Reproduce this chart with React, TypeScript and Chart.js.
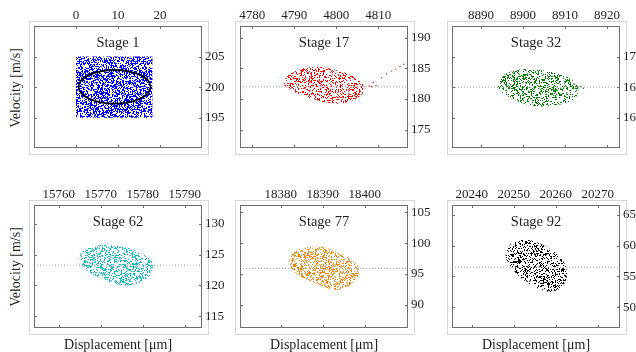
import React, { useEffect, useRef } from 'react';
import { Chart, registerables } from 'chart.js';

Chart.register(...registerables);

// ---------------- data ----------------
const STAGE_LABELS = ['Stage 1', 'Stage 17', 'Stage 32', 'Stage 62', 'Stage 77', 'Stage 92'];
const X_TITLE = 'Displacement [μm]';
const Y_TITLE = 'Velocity [m/s]';

const X_MIN = [-10, 4777.1, 8883.1, 15754.1, 18370.3, 20235.3];
const X_MAX = [30, 4817.1, 8923.1, 15794.1, 18410.3, 20275.3];
const Y_MIN = [190, 171.95, 155, 113.06, 86.2, 46.6];
const Y_MAX = [210, 191.95, 175, 133.06, 106.2, 66.6];

const X_TICKS = [
  [0, 10, 20],
  [4780, 4790, 4800, 4810],
  [8890, 8900, 8910, 8920],
  [15760, 15770, 15780, 15790],
  [18380, 18390, 18400],
  [20240, 20250, 20260, 20270],
];
const Y_TICKS = [
  [195, 200, 205],
  [175, 180, 185, 190],
  [160, 165, 170],
  [115, 120, 125, 130],
  [90, 95, 100, 105],
  [50, 55, 60, 65],
];

// reference (mean) velocity shown as dotted line
const REF_VELOCITY = [null, 182.0, 165.0, 123.3, 95.9, 56.5];

// Stage 1: initial uniform box of particles and acceptance ellipse
const STAGE1_BOX_X = [0, 18.2, 18.2, 0];
const STAGE1_BOX_Y = [195, 195, 205, 205];
const STAGE1_ELLIPSE_X = [17.8, 17.15, 15.28, 12.49, 9.2, 5.91, 3.12, 1.25, 0.6, 1.25, 3.12, 5.91, 9.2, 12.49, 15.28, 17.15, 17.8];
const STAGE1_ELLIPSE_Y = [200.05, 201.1, 202.0, 202.59, 202.8, 202.59, 202.0, 201.1, 200.05, 199.0, 198.1, 197.51, 197.3, 197.51, 198.1, 199.0, 200.05];

// Stage 17 bunch outline + escaping particles
const STAGE17_CLOUD_X = [4787.4, 4788.6, 4790.6, 4793.7, 4796.1, 4798.5, 4801.7, 4804.0, 4806.0, 4807.1, 4806.6, 4804.9, 4802.5, 4800.5, 4797.7, 4794.5, 4791.4, 4788.6, 4787.5];
const STAGE17_CLOUD_Y = [182.8, 184.1, 184.8, 185.3, 185.3, 185.0, 184.5, 183.8, 182.8, 181.9, 181.0, 180.0, 179.4, 179.1, 179.4, 179.9, 180.7, 181.6, 182.3];
const STAGE17_TRAIL_X = [4807.9, 4808.4, 4808.8, 4809.5, 4810.8, 4812.0, 4813.2, 4814.2, 4815.2, 4816.1];
const STAGE17_TRAIL_Y = [182.15, 182.0, 182.7, 182.2, 183.5, 184.1, 184.6, 184.9, 185.3, 185.7];

// Stage 32
const STAGE32_CLOUD_X = [8894.0, 8894.8, 8896.7, 8899.9, 8903.1, 8906.3, 8909.4, 8911.8, 8913.2, 8913.2, 8912.5, 8910.2, 8907.0, 8903.9, 8900.7, 8897.5, 8895.1, 8894.1];
const STAGE32_CLOUD_Y = [165.6, 166.8, 167.5, 168.0, 167.9, 167.6, 167.0, 166.2, 165.2, 164.1, 163.1, 162.3, 161.9, 161.8, 162.1, 163.0, 164.0, 164.8];
const STAGE32_STRAY_X = [8913.8, 8914.4];
const STAGE32_STRAY_Y = [165.1, 164.8];

// Stage 62
const STAGE62_CLOUD_X = [15764.5, 15765.3, 15767.3, 15769.6, 15772.0, 15775.2, 15778.3, 15780.7, 15782.1, 15782.7, 15782.3, 15780.7, 15778.3, 15775.6, 15772.8, 15769.6, 15766.9, 15764.9];
const STAGE62_CLOUD_Y = [124.5, 125.5, 126.2, 126.6, 126.6, 126.3, 125.8, 125.0, 124.1, 122.9, 122.0, 121.0, 120.1, 119.9, 120.3, 121.2, 122.3, 123.4];

// Stage 77
const STAGE77_CLOUD_X = [18381.7, 18382.3, 18383.9, 18386.7, 18389.0, 18391.0, 18393.4, 18396.2, 18398.2, 18398.7, 18398.4, 18397.0, 18395.0, 18393.0, 18390.6, 18387.5, 18384.7, 18382.7];
const STAGE77_CLOUD_Y = [96.7, 98.0, 99.0, 99.4, 99.5, 99.3, 98.6, 97.7, 96.6, 95.6, 94.5, 93.4, 92.6, 92.3, 92.8, 93.7, 94.6, 95.6];

// Stage 92
const STAGE92_CLOUD_X = [20248.3, 20249.3, 20251.3, 20253.2, 20255.6, 20258.0, 20260.3, 20261.9, 20262.7, 20262.7, 20261.9, 20260.3, 20258.8, 20256.4, 20254.0, 20251.7, 20249.7, 20248.3, 20248.0];
const STAGE92_CLOUD_Y = [59.4, 60.4, 60.9, 61.0, 60.6, 59.8, 58.7, 57.5, 56.1, 54.7, 53.5, 52.7, 52.4, 52.8, 53.6, 54.7, 56.1, 57.5, 58.4];

const CLOUD_X = [STAGE1_BOX_X, STAGE17_CLOUD_X, STAGE32_CLOUD_X, STAGE62_CLOUD_X, STAGE77_CLOUD_X, STAGE92_CLOUD_X];
const CLOUD_Y = [STAGE1_BOX_Y, STAGE17_CLOUD_Y, STAGE32_CLOUD_Y, STAGE62_CLOUD_Y, STAGE77_CLOUD_Y, STAGE92_CLOUD_Y];
const EXTRA_X = [null, STAGE17_TRAIL_X, STAGE32_STRAY_X, null, null, null];
const EXTRA_Y = [null, STAGE17_TRAIL_Y, STAGE32_STRAY_Y, null, null, null];

// ---------------- styles / layout ----------------
const COLORS = ['#0000ff', '#ff0000', '#008000', '#00bfbf', '#ff8000', '#000000'];
const DENSITY = [0.5, 0.3, 0.3, 0.3, 0.32, 0.3];
const FONT = "'Liberation Serif', 'Times New Roman', serif";
const TEXT = '#1f1f1f';
const FRAME = '#6e6e6e';

const FRAME_LEFT = [34, 240, 452];
const FRAME_TOP = [26, 205];
const FRAME_W = 168;
const FRAME_H = [123, 124];
const PAD_L = 8;
const PAD_B = 10;
const AXIS_T = 26;
const AXIS_R = 40;

// deterministic integer hash used only for the stipple texture
function hash2(x: number, y: number, s: number) {
  let h = (Math.imul(x, 374761393) + Math.imul(y, 668265263) + Math.imul(s, 1442695041)) | 0;
  h = Math.imul(h ^ (h >>> 13), 1274126177);
  h ^= h >>> 16;
  return (h >>> 0) / 4294967296;
}

function makeStipple(color: string, density: number, seed: number) {
  const T = 64;
  const c = document.createElement('canvas');
  c.width = T;
  c.height = T;
  const g = c.getContext('2d')!;
  g.fillStyle = color;
  for (let y = 0; y < T; y++) {
    for (let x = 0; x < T; x++) {
      if (hash2(x, y, seed) < density) g.fillRect(x, y, 1, 1);
    }
  }
  return g.createPattern(c, 'repeat');
}

const decorPlugin = {
  id: 'panelDecor',
  beforeDraw(chart: any) {
    const { ctx, chartArea: a } = chart;
    ctx.save();
    ctx.strokeStyle = '#d6d6d6';
    ctx.lineWidth = 1;
    const l = Math.round(a.left) - 5, t = Math.round(a.top) - 5;
    const r = Math.round(a.right) + 6, b = Math.round(a.bottom) + 6;
    ctx.strokeRect(l + 0.5, t + 0.5, r - l, b - t);
    ctx.restore();
  },
  beforeDatasetsDraw(chart: any) {
    const { ctx, chartArea: a } = chart;
    chart.data.datasets.forEach((ds: any, i: number) => {
      if (!ds.cloud) return;
      const pts = chart.getDatasetMeta(i).data;
      const n = pts.length;
      if (!n) return;
      ctx.save();
      ctx.beginPath();
      ctx.rect(a.left, a.top, a.right - a.left, a.bottom - a.top);
      ctx.clip();
      ctx.beginPath();
      if (ds.cloud === 'smooth') {
        const m0x = (pts[n - 1].x + pts[0].x) / 2, m0y = (pts[n - 1].y + pts[0].y) / 2;
        ctx.moveTo(m0x, m0y);
        for (let j = 0; j < n; j++) {
          const p = pts[j], q = pts[(j + 1) % n];
          ctx.quadraticCurveTo(p.x, p.y, (p.x + q.x) / 2, (p.y + q.y) / 2);
        }
      } else {
        ctx.moveTo(pts[0].x, pts[0].y);
        for (let j = 1; j < n; j++) ctx.lineTo(pts[j].x, pts[j].y);
      }
      ctx.closePath();
      ctx.fillStyle = ds.stipple;
      ctx.fill();
      ctx.restore();
    });
  },
  afterDatasetsDraw(chart: any, _args: any, opts: any) {
    const { ctx, chartArea: a, scales } = chart;
    const l = Math.round(a.left), t = Math.round(a.top), r = Math.round(a.right), b = Math.round(a.bottom);
    ctx.save();
    ctx.strokeStyle = FRAME;
    ctx.lineWidth = 1;
    ctx.strokeRect(l + 0.5, t + 0.5, r - l - 1, b - t - 1);
    ctx.beginPath();
    scales.x.ticks.forEach((tk: any) => {
      const x = Math.round(scales.x.getPixelForValue(tk.value)) + 0.5;
      ctx.moveTo(x, t);
      ctx.lineTo(x, t + 3);
      ctx.moveTo(x, b);
      ctx.lineTo(x, b - 3);
    });
    scales.y.ticks.forEach((tk: any) => {
      const y = Math.round(scales.y.getPixelForValue(tk.value)) + 0.5;
      ctx.moveTo(l, y);
      ctx.lineTo(l + 3, y);
      ctx.moveTo(r, y);
      ctx.lineTo(r - 3, y);
    });
    ctx.stroke();
    ctx.fillStyle = TEXT;
    ctx.font = `14.5px ${FONT}`;
    ctx.textAlign = 'center';
    ctx.textBaseline = 'middle';
    ctx.fillText(opts.title, (l + r) / 2, t + 17);
    ctx.restore();
  },
};

function pts(xs: number[], ys: number[]) {
  return xs.map((x, i) => ({ x, y: ys[i] }));
}

function Panel({ idx }: { idx: number }) {
  const ref = useRef<HTMLCanvasElement>(null);
  const col = idx % 3;
  const row = Math.floor(idx / 3);
  const fh = FRAME_H[row];
  const W = FRAME_W + PAD_L + AXIS_R;
  const H = fh + AXIS_T + PAD_B;

  useEffect(() => {
    const canvas = ref.current!;
    const datasets: any[] = [];
    const ref_v = REF_VELOCITY[idx];
    if (ref_v !== null) {
      datasets.push({
        data: [{ x: X_MIN[idx], y: ref_v }, { x: X_MAX[idx], y: ref_v }],
        borderColor: '#9a9a9a',
        borderWidth: 1,
        borderDash: [1, 2],
        pointRadius: 0,
        order: 1,
      });
    }
    if (idx === 0) {
      datasets.push({
        data: pts(STAGE1_ELLIPSE_X, STAGE1_ELLIPSE_Y),
        borderColor: '#000000',
        borderWidth: 1.8,
        tension: 0.4,
        pointRadius: 0,
        order: 2,
      });
    }
    const ex = EXTRA_X[idx], ey = EXTRA_Y[idx];
    if (ex && ey) {
      datasets.push({
        data: pts(ex, ey),
        showLine: false,
        pointRadius: 0.7,
        pointBorderWidth: 0,
        pointBackgroundColor: COLORS[idx],
        order: 3,
      });
    }
    datasets.push({
      data: pts(CLOUD_X[idx], CLOUD_Y[idx]),
      showLine: false,
      pointRadius: 0,
      cloud: idx === 0 ? 'polygon' : 'smooth',
      stipple: makeStipple(COLORS[idx], DENSITY[idx], idx + 1),
      order: 4,
    });

    const tickFont = { family: FONT, size: 13 };
    const chart = new Chart(canvas, {
      type: 'line',
      data: { datasets },
      options: {
        animation: false,
        responsive: false,
        maintainAspectRatio: false,
        events: [],
        layout: { padding: { left: PAD_L, right: 0, top: 0, bottom: PAD_B } },
        plugins: {
          legend: { display: false },
          tooltip: { enabled: false },
          panelDecor: { title: STAGE_LABELS[idx] },
        } as any,
        scales: {
          x: {
            type: 'linear',
            position: 'top',
            min: X_MIN[idx],
            max: X_MAX[idx],
            grid: { display: false, drawTicks: false },
            border: { display: false },
            ticks: {
              font: tickFont,
              color: TEXT,
              padding: 3,
              maxRotation: 0,
              autoSkip: false,
              callback: (v: any) => String(v),
            },
            afterBuildTicks: (s: any) => {
              s.ticks = X_TICKS[idx].map((v) => ({ value: v }));
            },
            afterFit: (s: any) => {
              s.height = AXIS_T;
            },
          },
          y: {
            type: 'linear',
            position: 'right',
            min: Y_MIN[idx],
            max: Y_MAX[idx],
            grid: { display: false, drawTicks: false },
            border: { display: false },
            ticks: {
              font: tickFont,
              color: TEXT,
              padding: 3,
              autoSkip: false,
              callback: (v: any) => String(v),
            },
            afterBuildTicks: (s: any) => {
              s.ticks = Y_TICKS[idx].map((v) => ({ value: v }));
            },
            afterFit: (s: any) => {
              s.width = AXIS_R;
            },
          },
        },
      } as any,
      plugins: [decorPlugin as any],
    });
    return () => chart.destroy();
  }, []);

  return (
    <canvas
      ref={ref}
      width={W}
      height={H}
      style={{
        position: 'absolute',
        left: FRAME_LEFT[col] - PAD_L,
        top: FRAME_TOP[row] - AXIS_T,
        width: W,
        height: H,
      }}
    />
  );
}

const labelStyle: React.CSSProperties = {
  position: 'absolute',
  fontFamily: FONT,
  fontSize: 14,
  color: TEXT,
  whiteSpace: 'nowrap',
  lineHeight: 1,
};

export default function App() {
  return (
    <div
      style={{
        position: 'fixed',
        left: 0,
        top: 0,
        width: 636,
        height: 352,
        overflow: 'hidden',
        background: '#ffffff',
      }}
    >
      {[0, 1, 2, 3, 4, 5].map((i) => (
        <Panel key={i} idx={i} />
      ))}
      {[0, 1].map((r) => (
        <div
          key={'yl' + r}
          style={{
            ...labelStyle,
            left: 16,
            top: FRAME_TOP[r] + FRAME_H[r] / 2,
            transform: 'translate(-50%, -50%) rotate(-90deg)',
          }}
        >
          {Y_TITLE}
        </div>
      ))}
      {[0, 1, 2].map((c) => (
        <div
          key={'xl' + c}
          style={{
            ...labelStyle,
            left: FRAME_LEFT[c] + FRAME_W / 2,
            top: 345,
            transform: 'translate(-50%, -50%)',
          }}
        >
          {X_TITLE}
        </div>
      ))}
    </div>
  );
}
